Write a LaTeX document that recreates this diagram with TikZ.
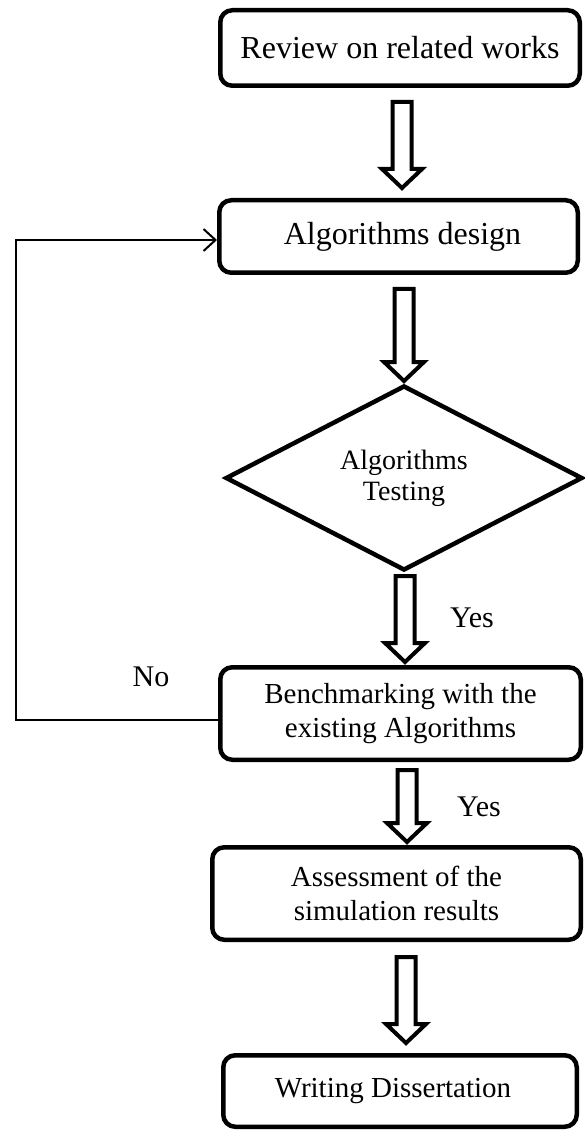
\documentclass[tikz,border=0pt]{standalone}
\usepackage{fontspec}
\setmainfont{Liberation Serif}
\usetikzlibrary{shapes.geometric,arrows.meta,calc}
\newcommand{\barrow}[2]{\draw[blk] let \p1=(#1), \p2=(#2) in
 (\x1-9.5pt,\y1) -- (\x1+9.5pt,\y1) -- (\x1+9.5pt,\y2+19pt) -- (\x1+20pt,\y2+19pt)
 -- (\x1,\y2) -- (\x1-20pt,\y2+19pt) -- (\x1-9.5pt,\y2+19pt) -- cycle;}
\begin{document}
\begin{tikzpicture}[x=1pt,y=-1pt,
  box/.style={draw, line width=4.5pt, rounded corners=12pt, inner sep=0pt, align=center},
  bigtxt/.style={font=\fontsize{32}{36}\selectfont},
  midtxt/.style={font=\fontsize{29}{34}\selectfont},
  blk/.style={draw, line width=4pt, fill=white},
  fb/.style={draw, line width=2pt},
  lbl/.style={font=\fontsize{30}{34}\selectfont, inner sep=0pt}]
\useasboundingbox (0,0) rectangle (585,1131);
\node[box,bigtxt,minimum width=359.5pt,minimum height=75.5pt] (b1) at (400,48) {Review on related works};
\node[box,bigtxt,minimum width=358.5pt,minimum height=72.5pt] (b2) at (398.5,236.5) {\hspace*{8pt}Algorithms design};
\node[draw,diamond,line width=4.5pt,inner sep=0pt,minimum width=357pt,minimum height=185pt,align=center,font=\fontsize{28}{31}\selectfont] (dia) at (404,478) {Algorithms\\Testing};
\node[box,midtxt,minimum width=360.5pt,minimum height=92.5pt] (b3) at (400.5,713.5) {Benchmarking with the\\existing Algorithms};
\node[box,midtxt,minimum width=368.5pt,minimum height=92.5pt] (b4) at (396.5,893.5) {Assessment of the\\simulation results};
\node[box,midtxt,minimum width=353.5pt,minimum height=71.5pt] (b5) at (400,1091) {Writing Dissertation\hspace*{14pt}};
% block arrow end points
\coordinate (s1) at (402,102); \coordinate (t1) at (402,188);
\coordinate (s2) at (404,289); \coordinate (t2) at (404,381);
\coordinate (s3) at (405,576); \coordinate (t3) at (405,662);
\coordinate (s4) at (407,770); \coordinate (t4) at (407,842);
\coordinate (s5) at (406,957); \coordinate (t5) at (406,1043);
\barrow{s1}{t1}
\barrow{s2}{t2}
\barrow{s3}{t3}
\barrow{s4}{t4}
\barrow{s5}{t5}
% feedback loop
\coordinate (fbx) at (16,500);
\draw[fb,-{Straight Barb[length=12pt,width=22pt]}] ([yshift=-6.5pt]b3.west) -| (fbx) |- ([yshift=-3.5pt]b2.west);
\node[lbl] (yes1) at (472,618) {Yes};
\node[lbl] (yes2) at (479,807) {Yes};
\node[lbl] (no) at (151,677) {No};
\end{tikzpicture}
\end{document}
